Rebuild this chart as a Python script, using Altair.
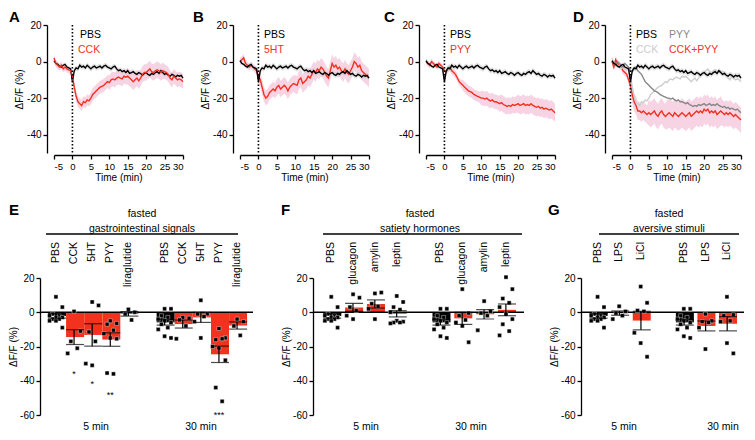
import altair as alt
import pandas as pd

FONT = "Liberation Sans"
RED = "#f2311f"
PINK = "#f2c2d8"
GRAY_BAND = "#c8c8c8"
PYY_GRAY = "#878787"
CCK_GRAY = "#cdcdcd"

# ---------------- traces (A-D), sampled every 0.5 min ----------------
time_min = [-5 + 0.5 * i for i in range(71)]

pbs_trace = [0.5, -1, -1.5, -2.5, -3, -2, -1.5, -3, -3.5, -4,
             -11, -5, -3.5, -4, -2, -3, -2.5, -3.5, -2, -3,
             -4, -3, -2.5, -3.5, -3, -2.5, -3.5, -2.5, -2, -3,
             -3.5, -4, -3, -2.5, -4, -5, -4.5, -5.5, -5, -6,
             -5, -6.5, -6, -5.5, -6.5, -7, -6, -6.5, -7.5, -6.5,
             -6, -7, -7.5, -6.5, -7, -6, -5.5, -6.5, -5, -6,
             -7, -6.5, -7.5, -8, -7, -7.5, -8.5, -7.5, -8, -7.5,
             -9]
cck_trace = [2, -1, -2, -3, -2, -4, -3, -4, -4.5, -5,
             -8, -14, -19, -22, -23, -24, -22, -22.5, -21, -21.5,
             -20, -18, -17, -16, -15, -14, -13.5, -13, -12, -11,
             -11.5, -10, -9.5, -10, -9, -8.5, -9, -9.5, -8, -8.5,
             -8, -9, -10, -11, -10, -9, -10.5, -9, -7, -6,
             -6, -5, -4, -5.5, -6, -5, -4.5, -5, -6, -5,
             -5.5, -6, -7, -9, -10, -8, -9, -10, -9.5, -10,
             -11]
ht5_trace = [0, 1, 2, -1, -2, -3, -2, -3, -4, -5,
             -8, -10, -14, -18, -20, -19, -17, -16, -15, -16,
             -14, -13, -15, -14, -13, -14, -16, -14, -13, -12,
             -12.5, -13, -10, -9, -12, -11, -10, -8, -9, -7,
             -5, -6, -4, -5, -3, -4, -6, -8, -9, -5,
             -1, -3, -2, -4, -3, -5, -6, -4, -6, -7,
             -5, -3, 0, -1, -3, -2, -5, -6, -7, -8,
             -9]
pyy_trace = [0, -1, -2, 0, -1, -2, -3, -1, -2, -3,
             -5, -5.5, -4, -3, -5, -6, -7, -9, -11, -12,
             -13, -14, -15, -16, -16.5, -17, -18, -18.5, -19, -19.5,
             -20, -20, -20.5, -20, -21, -21.5, -21, -22, -22, -22.5,
             -23, -22.5, -23.5, -24, -24.5, -24, -24.5, -23.5, -24, -23.5,
             -23, -24, -23.5, -23, -24, -23.5, -24, -23, -24, -24.5,
             -25, -24.5, -25.5, -25, -26, -25.5, -26, -26.5, -26, -27,
             -28]
cckpyy_trace = [0, -3, 1, -1, -2, -3, -5, -6, -7, -10,
                -13, -18, -22, -24, -27, -27, -28, -27, -28, -29,
                -28, -29, -28, -27, -29, -30, -28, -27, -29, -30,
                -29, -28, -29, -30, -28, -29, -30, -29, -28, -29,
                -30, -29, -28, -30, -29, -28, -27, -28, -27, -28,
                -26, -27, -26, -28, -27, -28, -27, -29, -28, -27,
                -28, -29, -28, -29, -28, -29, -30, -29, -30, -31,
                -32]

# SEM for each 5-min segment: [-5,0) [0,5) [5,10) [10,15) [15,20) [20,25) [25,30]
pbs_sem = [1.0, 1.5, 1.5, 1.5, 1.5, 1.5, 1.5]
cck_sem = [2.0, 3.0, 3.5, 4.0, 4.5, 4.5, 4.0]
ht5_sem = [2.0, 4.0, 4.5, 5.0, 5.0, 5.0, 5.0]
pyy_sem = [1.5, 2.0, 3.0, 4.0, 4.5, 5.0, 5.0]
cckpyy_sem = [2.0, 5.0, 7.0, 8.0, 8.0, 8.0, 7.0]

trace_rows = []
for name, vals, sems in [("PBS", pbs_trace, pbs_sem), ("CCK", cck_trace, cck_sem),
                         ("5HT", ht5_trace, ht5_sem), ("PYY", pyy_trace, pyy_sem),
                         ("CCK+PYY", cckpyy_trace, cckpyy_sem)]:
    for t, v in zip(time_min, vals):
        s = sems[min(int((t + 5) // 5), 6)]
        trace_rows.append({"t": t, "series": name, "value": v, "lo": v - s, "hi": v + s})
trace_df = pd.DataFrame(trace_rows)

# ---------------- dot/bar data (E-G) ----------------
pbs_5min = [9, 3, -1, -2, -2, -3, -3, -4, -4, -5, -5, -9]
pbs_30min = [2, 2, -2, -3, -4, -5, -6, -7, -9, -10, -14, -15]
cck_5min = [0.5, -11, -17, -21, -24]
cck_30min = [-3, -3.5, -4.5, -8, -15.5]
ht5_5min = [6, 4, -11.5, -17, -30, -31]
ht5_30min = [7, -1, -1, -2.5, -5.5, -15]
pyy_5min = [-5, -6.5, -7, -10.5, -12.5, -15, -15.5, -35.5, -36]
pyy_30min = [-9.5, -15, -16, -15.5, -20, -21, -28, -44, -52]
lira_5min = [1.7, 0, -1, -4.5]
lira_30min = [-4, -5.5, -8, -13.5]
glucagon_5min = [10.5, 8.5, 3, 1, -2, -4]
glucagon_30min = [13.5, -0.5, -2, -4.5, -6, -8, -17.5]
amylin_5min = [11, 11.5, 5, 3.5, 2, -4]
amylin_30min = [6.5, 0.5, -0.5, -2, -10.5]
leptin_5min = [9.5, 6, 3, 1.5, 0, -5, -5.5, -6, -6, -6.5]
leptin_30min = [20.5, 13.5, 8, 5.5, 3, -1, -4, -7, -11, -13.5]
lps_5min = [3.5, 0.5, -0.5, -2, -4]
lps_30min = [-1, -5, -5.5, -6, -9, -21.5]
licl_5min = [15, 5.5, 1, 0.5, -12, -18, -26]
licl_30min = [9, -1.5, -2, -5, -5.5, -18, -24]

sig_keys = ["5 min|CCK", "5 min|5HT", "5 min|PYY", "30 min|PYY"]
sig_text = ["*", "*", "**", "***"]
sig_y = [-34.5, -40, -46.5, -58]

CELL_W = 143
TOP_H = 128
BOT_H = 137
one = pd.DataFrame({"k": [0]})


def trace_panel(letter, letter_x, specs, legends):
    xs = alt.Scale(domain=[-5, 30], range=[14, CELL_W], nice=False, zero=False)
    xax = alt.Axis(values=list(range(-5, 31, 5)), tickCount=20, title="Time (min)", offset=2,
                   titlePadding=2, titleFontWeight="normal", labelOverlap=False,
                   labelFontSize=9.5, labelExpr="'' + datum.value")
    ys = alt.Scale(domain=[-50, 20], nice=False, zero=False)
    yax = alt.Axis(values=[20, 0, -20, -40], tickCount=20, title="ΔF/F (%)", offset=-7,
                   titlePadding=2, titleFontWeight="normal", labelExpr="'' + datum.value")
    X = alt.X("t:Q", scale=xs, axis=xax)
    layers = []
    for name, color, band, bop in specs:
        if band:
            layers.append(alt.Chart(trace_df).transform_filter(alt.datum.series == name)
                          .mark_area(color=band, opacity=bop)
                          .encode(x=X, y=alt.Y("lo:Q", scale=ys, axis=yax), y2="hi:Q"))
    for name, color, band, bop in specs:
        layers.append(alt.Chart(trace_df).transform_filter(alt.datum.series == name)
                      .mark_line(color=color, strokeWidth=1.4)
                      .encode(x=X, y=alt.Y("value:Q", scale=ys, axis=yax)))
    layers.append(alt.Chart(one).mark_rule(color="black", strokeDash=[1.5, 2], strokeWidth=1.6)
                  .encode(x=alt.datum(0)))
    for txt, color, px, py in legends:
        layers.append(alt.Chart(one).mark_text(text=txt, color=color, fontSize=10.5, align="left")
                      .encode(x=alt.value(px), y=alt.value(py)))
    layers.append(alt.Chart(one).mark_text(text=letter, fontSize=15, fontWeight="bold", align="left")
                  .encode(x=alt.value(letter_x), y=alt.value(-8)))
    return alt.layer(*layers).properties(width=CELL_W, height=TOP_H)


def bar_panel(letter, subtitle, drugs, vals5, vals30, shift, range_w, pi, po,
              letter_x, title_cx, rule_x, min_x, sig=None):
    keys5 = [f"5 min|{d}" for d in drugs]
    keys30 = [f"30 min|{d}" for d in drugs]
    domain = keys5 + ["gap"] + keys30
    rows = []
    for k, vals in zip(keys5 + keys30, vals5 + vals30):
        for v in vals:
            rows.append({"key": k, "value": v})
    df = pd.DataFrame(rows)
    lab = pd.DataFrame({"key": keys5 + keys30, "label": drugs + drugs})
    xs = alt.Scale(domain=domain, range=[shift, shift + range_w], paddingInner=pi, paddingOuter=po)
    X = alt.X("key:N", scale=xs, axis=None)
    ys = alt.Scale(domain=[-60, 20], nice=False, zero=False)
    yax = alt.Axis(values=[20, 0, -20, -40, -60], tickCount=20, title="ΔF/F (%)", titlePadding=1,
                   titleFontWeight="normal", offset=-shift, labelOverlap=False,
                   labelExpr="'' + datum.value")
    layers = []
    layers.append(alt.Chart(df).mark_bar().encode(
        x=X, y=alt.Y("mean(value):Q", scale=ys, axis=yax),
        color=alt.condition("indexof(datum.key, 'PBS') >= 0", alt.value("black"), alt.value(RED))))
    layers.append(alt.Chart(one).mark_rule(color="black", strokeWidth=1.4)
                  .encode(x=alt.value(shift), x2=alt.value(shift + range_w), y=alt.datum(0)))
    layers.append(alt.Chart(df).transform_window(r="row_number()", groupby=["key"])
                  .transform_calculate(off="((datum.r * 7) % 5 - 2) / 2.5")
                  .mark_square(size=16, color="black", opacity=1, stroke="white", strokeWidth=0.4)
                  .encode(x=X, xOffset=alt.XOffset("off:Q", scale=alt.Scale(domain=[-1, 1])),
                          y=alt.Y("value:Q", scale=ys, axis=yax)))
    layers.append(alt.Chart(df).mark_errorbar(extent="stderr", ticks=True, color="black", thickness=1.2)
                  .encode(x=X, y=alt.Y("value:Q", scale=ys, axis=yax)))
    if sig:
        sdf = pd.DataFrame({"key": sig[0], "txt": sig[1], "y": sig[2]})
        layers.append(alt.Chart(sdf).mark_text(fontSize=9, baseline="middle", dy=3)
                      .encode(x=X, y=alt.Y("y:Q", scale=ys, axis=yax), text="txt:N"))
    layers.append(alt.Chart(lab).mark_text(angle=270, align="right", baseline="middle", fontSize=10.5)
                  .encode(x=X, y=alt.value(-36), text="label:N"))
    layers.append(alt.Chart(one).mark_text(text="fasted", fontSize=10.5, align="center")
                  .encode(x=alt.value(shift + title_cx), y=alt.value(-64)))
    layers.append(alt.Chart(one).mark_text(text=subtitle, fontSize=10.5, align="center")
                  .encode(x=alt.value(shift + title_cx), y=alt.value(-49)))
    layers.append(alt.Chart(one).mark_rule(color="black", strokeWidth=1.3)
                  .encode(x=alt.value(shift + rule_x[0]), x2=alt.value(shift + rule_x[1]), y=alt.value(-44)))
    for txt, px in zip(["5 min", "30 min"], min_x):
        layers.append(alt.Chart(one).mark_text(text=txt, fontSize=10.5, align="center")
                      .encode(x=alt.value(shift + px), y=alt.value(BOT_H + 12)))
    layers.append(alt.Chart(one).mark_text(text=letter, fontSize=15, fontWeight="bold", align="left")
                  .encode(x=alt.value(shift + letter_x), y=alt.value(-68)))
    return alt.layer(*layers).properties(width=CELL_W, height=BOT_H)


A = trace_panel("A", -31, [("PBS", "black", GRAY_BAND, 0.5), ("CCK", RED, PINK, 0.7)],
                [("PBS", "black", 40, 10), ("CCK", RED, 38, 25)])
B = trace_panel("B", -33, [("5HT", RED, PINK, 0.7), ("PBS", "black", GRAY_BAND, 0.5)],
                [("PBS", "black", 38, 10), ("5HT", RED, 38, 25)])
C = trace_panel("C", -28, [("PYY", RED, PINK, 0.7), ("PBS", "black", GRAY_BAND, 0.5)],
                [("PBS", "black", 38, 10), ("PYY", RED, 38, 25)])
D = trace_panel("D", -25, [("CCK+PYY", RED, PINK, 0.7), ("CCK", CCK_GRAY, None, 0),
                           ("PYY", PYY_GRAY, None, 0), ("PBS", "black", GRAY_BAND, 0.5)],
                [("PBS", "black", 38, 10), ("PYY", PYY_GRAY, 71, 10),
                 ("CCK", CCK_GRAY, 38, 25), ("CCK+PYY", RED, 71, 25)])

E = bar_panel("E", "gastrointestinal signals", ["PBS", "CCK", "5HT", "PYY", "liraglutide"],
              [pbs_5min, cck_5min, ht5_5min, pyy_5min, lira_5min],
              [pbs_30min, cck_30min, ht5_30min, pyy_30min, lira_30min],
              0, 213, 0.12, 0.44, -31, 102, (6, 198), (56, 161),
              sig=(sig_keys, sig_text, sig_y))
F = bar_panel("F", "satiety hormones", ["PBS", "glucagon", "amylin", "leptin"],
              [pbs_5min, glucagon_5min, amylin_5min, leptin_5min],
              [pbs_30min, glucagon_30min, amylin_30min, leptin_30min],
              87, 211, 0.28, 0.47, -32, 107, (10, 209), (53, 158))
G = bar_panel("G", "aversive stimuli", ["PBS", "LPS", "LiCl"],
              [pbs_5min, lps_5min, licl_5min],
              [pbs_30min, lps_30min, licl_30min],
              169, 163, 0.24, 0.4, -33, 88, (18, 158), (43, 142))

chart = alt.concat(A, B, C, D, E, F, G, columns=4, spacing={"row": 125, "column": 43},
                   bounds="flush").properties(padding={"top": 2, "left": 0, "right": 0, "bottom": 0})
chart = chart.configure(font=FONT).configure_view(stroke=None).configure_axis(
    domainColor="black", tickColor="black", labelColor="black", titleColor="black",
    labelFont=FONT, titleFont=FONT, labelFontSize=10, titleFontSize=10,
    titleFontWeight="normal", grid=False, domainWidth=1.3, tickWidth=1.3,
    tickSize=4, labelPadding=2)

chart.save("out.html", embed_options={"renderer": "svg", "actions": False})
